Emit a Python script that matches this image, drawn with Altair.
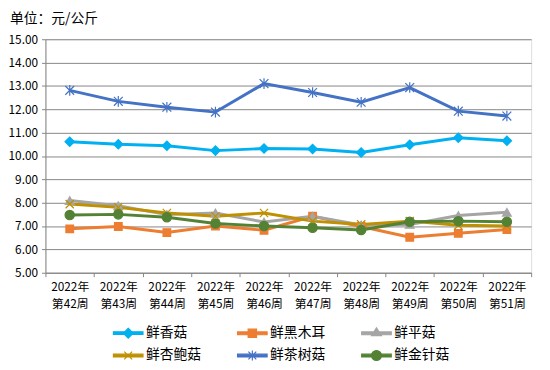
import altair as alt
import pandas as pd

weeks = ["2022年第42周", "2022年第43周", "2022年第44周", "2022年第45周", "2022年第46周",
         "2022年第47周", "2022年第48周", "2022年第49周", "2022年第50周", "2022年第51周"]

series_names = ["鲜香菇", "鲜黑木耳", "鲜平菇", "鲜杏鲍菇", "鲜茶树菇", "鲜金针菇"]
series_colors = ["#00B0F0", "#ED7D31", "#A5A5A5", "#BF9000", "#4472C4", "#548235"]

xianggu = [10.61, 10.50, 10.44, 10.23, 10.32, 10.30, 10.15, 10.48, 10.78, 10.65]
heimuer = [6.88, 6.98, 6.72, 7.00, 6.82, 7.42, 6.98, 6.52, 6.69, 6.85]
pinggu = [8.09, 7.87, 7.49, 7.56, 7.17, 7.42, 7.05, 7.07, 7.45, 7.59]
xingbaogu = [7.94, 7.80, 7.56, 7.42, 7.56, 7.21, 7.07, 7.21, 7.03, 7.00]
chashugu = [12.81, 12.34, 12.09, 11.88, 13.10, 12.72, 12.30, 12.93, 11.92, 11.71]
jinzhengu = [7.47, 7.50, 7.38, 7.11, 7.00, 6.93, 6.83, 7.18, 7.21, 7.18]

y_ticks = [5, 6, 7, 8, 9, 10, 11, 12, 13, 14, 15]

all_values = [xianggu, heimuer, pinggu, xingbaogu, chashugu, jinzhengu]

rows = []
for name, vals in zip(series_names, all_values):
    for w, v in zip(weeks, vals):
        rows.append({"week": w, "series": name, "price": v})
df = pd.DataFrame(rows)

FONT = "Noto Sans CJK SC"
GRID = "#868686"

plot_shapes = ["diamond", "square", "triangle-up",
               "M-1,-1L1,1M-1,1L1,-1",
               "M-1,-1L1,1M-1,1L1,-1M0,-1.2L0,1.2",
               "circle"]
plot_sizes = [90, 60, 80, 70, 80, 90]

bar = "M-3,-0.28L3,-0.28L3,0.28L-3,0.28Z"
legend_shapes = [
    bar + "M0,-1L1,0L0,1L-1,0Z",
    bar + "M-0.85,-0.85L0.85,-0.85L0.85,0.85L-0.85,0.85Z",
    bar + "M0,-1.1L1,0.45L-1,0.45Z",
    bar + "M-0.8,-0.8L0.8,0.8M-0.8,0.8L0.8,-0.8",
    bar + "M-0.8,-0.8L0.8,0.8M-0.8,0.8L0.8,-0.8M0,-1L0,1",
    bar + "M1,0A1,1,0,1,1,-1,0A1,1,0,1,1,1,0Z",
]

color_scale = alt.Scale(domain=series_names, range=series_colors)

x_enc = alt.X(
    "week:N", sort=weeks,
    scale=alt.Scale(type="band", paddingInner=0, paddingOuter=0),
    axis=alt.Axis(
        title=None, labelAngle=0, tickBand="extent", tickSize=4,
        labelPadding=5, labelFontSize=12, labelFont=FONT, labelColor="#000",
        labelLineHeight=17, domainColor=GRID, tickColor=GRID, grid=False,
        labelExpr="[slice(datum.label,0,5), slice(datum.label,5)]",
    ),
)
y_enc = alt.Y(
    "price:Q",
    scale=alt.Scale(domain=[5, 15], nice=False, zero=False),
    axis=alt.Axis(
        title=None, values=y_ticks, format=".2f", tickSize=4, labelPadding=4,
        labelFontSize=12, labelFont=FONT, labelColor="#000",
        gridColor=GRID, domainColor=GRID, tickColor=GRID, gridOpacity=1,
    ),
)

base = alt.Chart(df)

layers = []
for name, col in zip(series_names, series_colors):
    layers.append(
        base.transform_filter(alt.datum.series == name)
        .mark_line(strokeWidth=3, stroke=col, opacity=1)
        .encode(x=x_enc, y=y_enc)
    )
for name, col, shp, sz in zip(series_names, series_colors, plot_shapes, plot_sizes):
    layers.append(
        base.transform_filter(alt.datum.series == name)
        .mark_point(shape=shp, size=sz, filled=True, fill=col, stroke=col,
                    strokeWidth=1.2, opacity=1)
        .encode(x=x_enc, y=y_enc)
    )


def make_legend():
    return alt.Legend(
        title=None, orient="none", legendX=77, legendY=291, columns=3,
        direction="horizontal",
        symbolSize=100, symbolStrokeWidth=1.2, symbolOpacity=1,
        labelFontSize=14, labelFont=FONT, labelColor="#000",
        labelOffset=11, columnPadding=34, rowPadding=7,
    )


legend_layer = base.transform_filter("false").mark_point(
    filled=True, opacity=1, strokeWidth=1.2, size=100
).encode(
    x=x_enc, y=y_enc,
    fill=alt.Fill("series:N", scale=color_scale, legend=make_legend()),
    stroke=alt.Stroke("series:N", scale=color_scale, legend=make_legend()),
    shape=alt.Shape("series:N", scale=alt.Scale(domain=series_names, range=legend_shapes),
                    legend=make_legend()),
)
layers.append(legend_layer)

chart = alt.layer(*layers).properties(
    width=493, height=237,
    title=alt.TitleParams("单位：元/公斤", anchor="start", frame="group", dx=-36,
                          fontSize=14, fontWeight="normal", font=FONT, color="#000",
                          offset=7),
    autosize=alt.AutoSizeParams(type="none"),
    padding={"left": 38, "top": 29, "right": 11, "bottom": 96},
).configure_view(stroke=None).configure(background="white")

chart.save("out.html", embed_options={"renderer": "svg", "actions": False})
